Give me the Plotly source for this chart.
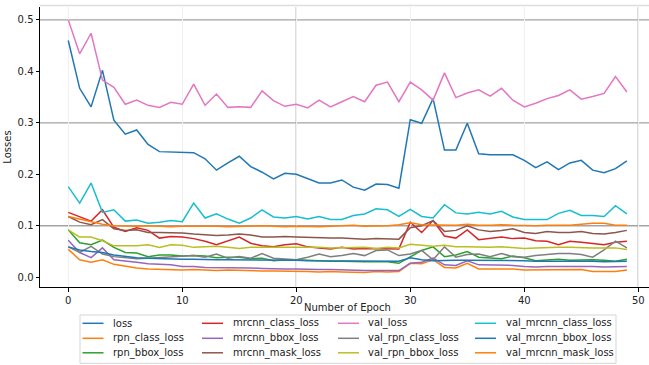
import plotly.graph_objects as go

# Training history of a Mask R-CNN model, one value per epoch
epochs = list(range(50))

series_names = [
    "loss", "rpn_class_loss", "rpn_bbox_loss",
    "mrcnn_class_loss", "mrcnn_bbox_loss", "mrcnn_mask_loss",
    "val_loss", "val_rpn_class_loss", "val_rpn_bbox_loss",
    "val_mrcnn_class_loss", "val_mrcnn_bbox_loss", "val_mrcnn_mask_loss",
]

loss = [0.460, 0.367, 0.331, 0.402, 0.305, 0.278, 0.286, 0.258, 0.244, 0.243,
        0.243, 0.242, 0.230, 0.208, 0.222, 0.235, 0.215, 0.204, 0.191, 0.202,
        0.200, 0.191, 0.183, 0.183, 0.189, 0.175, 0.169, 0.181, 0.180, 0.173,
        0.306, 0.299, 0.347, 0.247, 0.247, 0.299, 0.240, 0.238, 0.238, 0.238,
        0.227, 0.213, 0.224, 0.209, 0.222, 0.227, 0.208, 0.203, 0.211, 0.226]
rpn_class_loss = [0.054, 0.034, 0.029, 0.034, 0.025, 0.021, 0.018, 0.016, 0.015, 0.014,
                  0.014, 0.015, 0.014, 0.013, 0.014, 0.013, 0.013, 0.012, 0.012, 0.012,
                  0.011, 0.011, 0.010, 0.011, 0.010, 0.010, 0.009, 0.011, 0.010, 0.011,
                  0.027, 0.026, 0.034, 0.019, 0.018, 0.027, 0.016, 0.016, 0.016, 0.016,
                  0.014, 0.014, 0.015, 0.014, 0.015, 0.015, 0.011, 0.011, 0.011, 0.014]
rpn_bbox_loss = [0.092, 0.067, 0.063, 0.072, 0.058, 0.048, 0.047, 0.040, 0.043, 0.043,
                 0.041, 0.042, 0.041, 0.038, 0.039, 0.039, 0.036, 0.037, 0.032, 0.034,
                 0.034, 0.033, 0.031, 0.031, 0.031, 0.030, 0.030, 0.030, 0.030, 0.027,
                 0.039, 0.052, 0.059, 0.040, 0.043, 0.050, 0.039, 0.038, 0.036, 0.041,
                 0.038, 0.032, 0.033, 0.035, 0.033, 0.034, 0.034, 0.033, 0.031, 0.035]
mrcnn_class_loss = [0.126, 0.118, 0.109, 0.131, 0.097, 0.089, 0.096, 0.091, 0.076, 0.079,
                    0.078, 0.075, 0.070, 0.063, 0.071, 0.078, 0.066, 0.061, 0.059, 0.063,
                    0.065, 0.059, 0.057, 0.055, 0.058, 0.055, 0.056, 0.056, 0.055, 0.055,
                    0.107, 0.087, 0.110, 0.080, 0.076, 0.092, 0.073, 0.076, 0.078, 0.075,
                    0.076, 0.071, 0.070, 0.063, 0.070, 0.068, 0.065, 0.063, 0.068, 0.070]
mrcnn_bbox_loss = [0.072, 0.048, 0.038, 0.057, 0.034, 0.032, 0.029, 0.026, 0.025, 0.024,
                   0.021, 0.021, 0.019, 0.019, 0.018, 0.018, 0.018, 0.017, 0.016, 0.016,
                   0.016, 0.015, 0.015, 0.015, 0.014, 0.014, 0.013, 0.013, 0.013, 0.013,
                   0.027, 0.029, 0.037, 0.024, 0.023, 0.032, 0.024, 0.024, 0.024, 0.023,
                   0.021, 0.020, 0.021, 0.021, 0.022, 0.021, 0.021, 0.020, 0.021, 0.021]
mrcnn_mask_loss = [0.118, 0.107, 0.102, 0.112, 0.094, 0.091, 0.092, 0.087, 0.087, 0.087,
                   0.086, 0.084, 0.083, 0.081, 0.082, 0.084, 0.082, 0.078, 0.078, 0.079,
                   0.078, 0.077, 0.077, 0.076, 0.076, 0.075, 0.074, 0.075, 0.074, 0.074,
                   0.096, 0.100, 0.110, 0.089, 0.091, 0.100, 0.092, 0.089, 0.091, 0.094,
                   0.087, 0.085, 0.089, 0.087, 0.087, 0.089, 0.085, 0.084, 0.087, 0.091]
val_loss = [0.500, 0.434, 0.474, 0.383, 0.369, 0.336, 0.344, 0.334, 0.330, 0.340,
            0.336, 0.375, 0.334, 0.356, 0.330, 0.331, 0.330, 0.362, 0.343, 0.332,
            0.336, 0.329, 0.344, 0.331, 0.341, 0.351, 0.341, 0.373, 0.379, 0.341,
            0.379, 0.364, 0.344, 0.397, 0.349, 0.358, 0.364, 0.352, 0.367, 0.344,
            0.331, 0.338, 0.347, 0.353, 0.364, 0.346, 0.351, 0.357, 0.390, 0.360]
val_rpn_class_loss = [0.059, 0.048, 0.060, 0.045, 0.040, 0.038, 0.036, 0.037, 0.038, 0.039,
                      0.040, 0.042, 0.039, 0.045, 0.037, 0.040, 0.037, 0.046, 0.037, 0.036,
                      0.034, 0.039, 0.045, 0.040, 0.042, 0.046, 0.042, 0.052, 0.053, 0.042,
                      0.045, 0.052, 0.034, 0.059, 0.039, 0.044, 0.045, 0.040, 0.046, 0.040,
                      0.039, 0.042, 0.044, 0.046, 0.046, 0.044, 0.039, 0.053, 0.070, 0.057]
val_rpn_bbox_loss = [0.092, 0.078, 0.078, 0.071, 0.061, 0.061, 0.061, 0.063, 0.058, 0.063,
                     0.062, 0.058, 0.059, 0.060, 0.058, 0.056, 0.058, 0.058, 0.059, 0.059,
                     0.059, 0.058, 0.058, 0.057, 0.057, 0.058, 0.058, 0.056, 0.058, 0.057,
                     0.064, 0.062, 0.060, 0.062, 0.059, 0.059, 0.058, 0.058, 0.059, 0.058,
                     0.056, 0.057, 0.058, 0.058, 0.058, 0.057, 0.057, 0.057, 0.057, 0.054]
val_mrcnn_class_loss = [0.176, 0.144, 0.183, 0.126, 0.131, 0.109, 0.111, 0.105, 0.107, 0.110,
                        0.108, 0.144, 0.115, 0.123, 0.113, 0.105, 0.115, 0.131, 0.117, 0.115,
                        0.118, 0.113, 0.118, 0.112, 0.112, 0.120, 0.123, 0.133, 0.131, 0.118,
                        0.132, 0.118, 0.115, 0.141, 0.125, 0.123, 0.126, 0.123, 0.128, 0.117,
                        0.112, 0.112, 0.112, 0.124, 0.130, 0.120, 0.120, 0.118, 0.139, 0.123]
val_mrcnn_bbox_loss = [0.059, 0.053, 0.050, 0.048, 0.043, 0.040, 0.038, 0.037, 0.036, 0.036,
                       0.035, 0.035, 0.034, 0.034, 0.034, 0.034, 0.033, 0.033, 0.033, 0.033,
                       0.033, 0.032, 0.032, 0.032, 0.032, 0.032, 0.031, 0.031, 0.031, 0.031,
                       0.038, 0.034, 0.032, 0.033, 0.033, 0.033, 0.033, 0.033, 0.033, 0.033,
                       0.032, 0.031, 0.031, 0.032, 0.031, 0.031, 0.031, 0.030, 0.030, 0.031]
val_mrcnn_mask_loss = [0.118, 0.113, 0.108, 0.103, 0.100, 0.099, 0.099, 0.100, 0.099, 0.098,
                       0.099, 0.099, 0.100, 0.099, 0.098, 0.099, 0.099, 0.100, 0.099, 0.098,
                       0.099, 0.098, 0.098, 0.099, 0.100, 0.101, 0.099, 0.099, 0.100, 0.102,
                       0.106, 0.102, 0.102, 0.101, 0.101, 0.103, 0.101, 0.101, 0.102, 0.101,
                       0.100, 0.100, 0.101, 0.101, 0.101, 0.103, 0.105, 0.105, 0.101, 0.101]

series_values = [
    loss, rpn_class_loss, rpn_bbox_loss,
    mrcnn_class_loss, mrcnn_bbox_loss, mrcnn_mask_loss,
    val_loss, val_rpn_class_loss, val_rpn_bbox_loss,
    val_mrcnn_class_loss, val_mrcnn_bbox_loss, val_mrcnn_mask_loss,
]

x_ticks = [0, 10, 20, 30, 40, 50]
y_ticks = [0.0, 0.1, 0.2, 0.3, 0.4, 0.5]

# tab10 colour cycle (wraps after ten series)
palette = ["#1f77b4", "#ff7f0e", "#2ca02c", "#d62728", "#9467bd",
           "#8c564b", "#e377c2", "#7f7f7f", "#bcbd22", "#17becf"]
colors = [palette[i % len(palette)] for i in range(len(series_names))]

FONT = "DejaVu Sans"
W, H = 649, 365
ML, MR, MT, MB = 40, 0, 7, 78
PW, PH = W - ML - MR, H - MT - MB


def px_x(px):
    return (px - ML) / PW


def px_y(py):
    return (H - MB - py) / PH


fig = go.Figure()
for name, vals, col in zip(series_names, series_values, colors):
    fig.add_trace(go.Scatter(
        x=epochs, y=vals, mode="lines", name=name,
        line=dict(color=col, width=1.5), showlegend=False,
    ))

shapes = []
# heavier reference lines
for yv in (0.1, 0.3, 0.5):
    shapes.append(dict(type="line", xref="paper", yref="y", x0=0, x1=1, y0=yv, y1=yv,
                       line=dict(color="#a3a3a3", width=1.3), layer="below"))
for xv in (20, 50):
    shapes.append(dict(type="line", xref="x", yref="paper", x0=xv, x1=xv, y0=0, y1=1,
                       line=dict(color="#a3a3a3", width=1.3), layer="below"))
# top frame line
shapes.append(dict(type="line", xref="paper", yref="paper", x0=0, x1=1, y0=1.005, y1=1.005,
                   line=dict(color="#dddddd", width=1.5)))

# legend: four columns of three entries, filled column by column
legend_box = dict(x0=80, x1=616, y0=315, y1=363.3)
shapes.append(dict(type="rect", xref="paper", yref="paper",
                   x0=px_x(legend_box["x0"]), x1=px_x(legend_box["x1"]),
                   y0=px_y(legend_box["y1"]), y1=px_y(legend_box["y0"]),
                   line=dict(color="#d5d5d5", width=1), fillcolor="rgba(255,255,255,0.8)"))
col_line_x = [82.5, 202, 338, 475]
col_text_x = [111, 230.5, 366, 504]
row_y = [323.3, 338.3, 352.8]
annotations = []
for i, (name, col) in enumerate(zip(series_names, colors)):
    c, r = i // 3, i % 3
    shapes.append(dict(type="line", xref="paper", yref="paper",
                       x0=px_x(col_line_x[c]), x1=px_x(col_line_x[c] + 21),
                       y0=px_y(row_y[r]), y1=px_y(row_y[r]),
                       line=dict(color=col, width=1.5)))
    annotations.append(dict(text=name, xref="paper", yref="paper",
                            x=px_x(col_text_x[c]), y=px_y(row_y[r]),
                            xanchor="left", yanchor="middle", showarrow=False,
                            font=dict(family=FONT, size=10, color="#222222")))

annotations.append(dict(text="Number of Epoch", xref="paper", yref="paper",
                        x=px_x(347.5), y=px_y(307), xanchor="center", yanchor="middle",
                        showarrow=False, font=dict(family=FONT, size=10, color="#222222")))

fig.update_layout(
    width=W, height=H,
    margin=dict(l=ML, r=MR, t=MT, b=MB, pad=0),
    paper_bgcolor="white", plot_bgcolor="white",
    font=dict(family=FONT, size=10, color="#222222"),
    shapes=shapes, annotations=annotations,
    showlegend=False,
)
fig.update_xaxes(
    range=[-2.48, 50.94], tickvals=x_ticks, ticktext=[str(v) for v in x_ticks],
    showgrid=True, gridcolor="#f0f0f0", gridwidth=1, zeroline=False,
    showline=True, linecolor="black", linewidth=1,
    ticks="outside", ticklen=3.5, tickwidth=0.8, tickcolor="black",
    tickfont=dict(family=FONT, size=10, color="#222222"),
)
fig.update_yaxes(
    range=[-0.019, 0.525], tickvals=y_ticks, ticktext=[f"{v:.1f}" for v in y_ticks],
    showgrid=False, zeroline=False,
    showline=True, linecolor="black", linewidth=1,
    ticks="outside", ticklen=3.5, tickwidth=0.8, tickcolor="black",
    tickfont=dict(family=FONT, size=10, color="#222222"),
    title=dict(text="Losses", font=dict(family=FONT, size=10, color="#222222"), standoff=4),
)

fig.write_html("out.html")
